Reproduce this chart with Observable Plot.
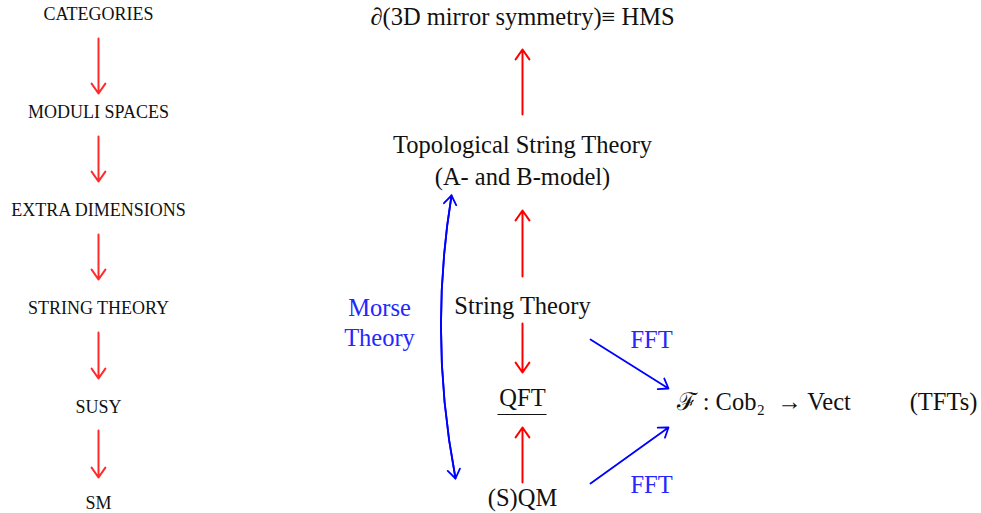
<!DOCTYPE html>
<html><head><meta charset="utf-8">
<script src="https://cdn.jsdelivr.net/npm/d3@7"></script>
<script src="https://cdn.jsdelivr.net/npm/@observablehq/plot@0.6"></script>
<style>body{margin:0;background:#fff}</style>
</head><body><div id="chart"></div>
<script>
// Left column (small caps chain)
const leftLabels = ["CATEGORIES", "MODULI SPACES", "EXTRA DIMENSIONS", "STRING THEORY", "SUSY", "SM"];
const leftY = [14, 112, 210, 308, 407, 503];
const leftX = 98;
const leftArrowY1 = [38, 136, 234, 332, 430];
const leftArrowY2 = [93, 181, 279, 378, 477];

// Right diagram nodes (black)
const nodeLabels = ["∂(3D mirror symmetry)≡ HMS", "Topological String Theory", "(A- and B-model)", "String Theory", "QFT", "(S)QM", "(TFTs)"];
const nodeX = [522, 522, 522, 522, 522, 522, 943];
const nodeY = [17, 145, 177, 306, 398, 498, 402];
const functorLabel = ["ℱ : Cob₂  → Vect"];
const functorX = [676];
const functorY = [402];

// Blue labels
const blueLabels = ["Morse", "Theory", "FFT", "FFT"];
const blueX = [379, 379, 651, 651];
const blueY = [308, 338, 340, 485];

// Red vertical arrows on the right
const redX = [522, 522, 522, 522];
const redY1 = [114, 276, 323, 482];
const redY2 = [49, 210, 372, 427];

// Blue straight arrows (FFT)
const fftX1 = [590, 590], fftY1 = [339, 483], fftX2 = [668, 668], fftY2 = [388, 427];

// Morse curved double arrow
const morseTop = [451, 195], morseBottom = [455, 478];

// QFT underline
const underline = [{x1: 497, x2: 546, y: 414}];

const leftNodes = leftLabels.map((t, i) => ({t, x: leftX, y: leftY[i]}));
const leftArrows = leftArrowY1.map((y1, i) => ({x: leftX, y1, y2: leftArrowY2[i]}));
const nodes = nodeLabels.map((t, i) => ({t, x: nodeX[i], y: nodeY[i]}));
const functor = functorLabel.map((t, i) => ({t, x: functorX[i], y: functorY[i]}));
const blues = blueLabels.map((t, i) => ({t, x: blueX[i], y: blueY[i]}));
const reds = redX.map((x, i) => ({x, y1: redY1[i], y2: redY2[i]}));
const ffts = fftX1.map((x1, i) => ({x1, y1: fftY1[i], x2: fftX2[i], y2: fftY2[i]}));
const morseDown = [{x1: morseTop[0], y1: morseTop[1], x2: morseBottom[0], y2: morseBottom[1]}];
const morseUp = [{x1: morseBottom[0], y1: morseBottom[1], x2: morseTop[0], y2: morseTop[1]}];

const serif = "'Liberation Serif', 'DejaVu Serif', serif";
const arrowStyle = {headLength: 9, headAngle: 70};

const chart = Plot.plot({
  width: 981,
  height: 513,
  margin: 0,
  x: {domain: [0, 981], range: [0, 981], axis: null},
  y: {domain: [0, 513], range: [0, 513], axis: null},
  style: {fontFamily: serif, background: "#fff"},
  marks: [
    Plot.text(leftNodes, {x: "x", y: "y", text: "t", fontSize: 18, fill: "#111", letterSpacing: 2.2}),
    Plot.arrow(leftArrows, {x: "x", y1: "y1", y2: "y2", stroke: "#ff2a2a", strokeWidth: 2, ...arrowStyle}),
    Plot.text(nodes, {x: "x", y: "y", text: "t", fontSize: 24.5, fill: "#111"}),
    Plot.text(functor, {x: "x", y: "y", text: "t", fontSize: 24.5, fill: "#111", textAnchor: "start"}),
    Plot.text(blues, {x: "x", y: "y", text: "t", fontSize: 24.5, fill: "#2626ff"}),
    Plot.arrow(reds, {x: "x", y1: "y1", y2: "y2", stroke: "red", strokeWidth: 2, ...arrowStyle}),
    Plot.arrow(ffts, {x1: "x1", y1: "y1", x2: "x2", y2: "y2", stroke: "blue", strokeWidth: 1.8, ...arrowStyle}),
    Plot.arrow(morseDown, {x1: "x1", y1: "y1", x2: "x2", y2: "y2", bend: -10, stroke: "blue", strokeWidth: 1.8, ...arrowStyle}),
    Plot.arrow(morseUp, {x1: "x1", y1: "y1", x2: "x2", y2: "y2", bend: 10, stroke: "blue", strokeWidth: 1.8, ...arrowStyle}),
    Plot.link(underline, {x1: "x1", x2: "x2", y1: "y", y2: "y", stroke: "#111", strokeWidth: 1.2})
  ]
});
document.getElementById("chart").append(chart);
</script>
</body></html>
